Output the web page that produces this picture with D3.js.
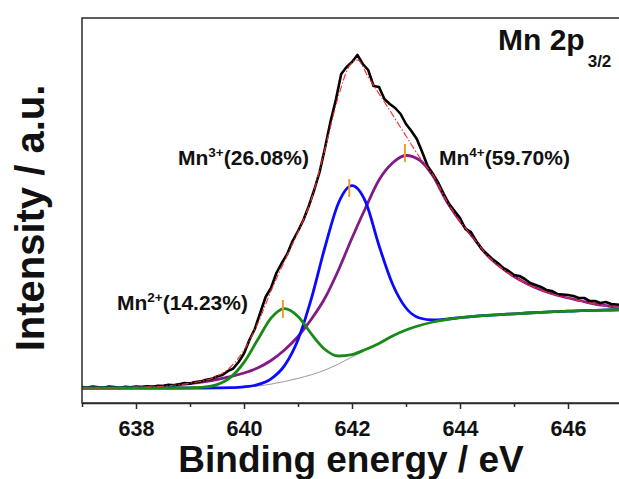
<!DOCTYPE html>
<html>
<head>
<meta charset="utf-8">
<script src="https://cdn.jsdelivr.net/npm/d3@7"></script>
<style>
  html, body { margin: 0; padding: 0; background: #fff; }
  svg { display: block; font-family: "Liberation Sans", Arial, sans-serif; }
</style>
</head>
<body>
<svg id="chart" width="619" height="479"></svg>
<script>
// ---- data (intensity in a.u.) ----
const rawStart = 637, rawStep = 0.1;
const rawIntensity = [
  17.0, 16.5, 17.5, 16.8, 16.2, 17.4, 16.9, 15.8, 17.2, 16.6,
  17.5, 16.9, 17.8, 17.1, 18.3, 18.0, 19.2, 18.6, 19.8, 20.9,
  20.4, 21.9, 22.6, 24.3, 25.1, 27.6, 29.0, 32.8, 35.5, 42.0,
  50.5, 64.0, 75.0, 91.0, 107.0, 116.0, 131.0, 141.0, 150.0, 163.0,
  173.0, 184.0, 198.0, 214.0, 232.0, 256.0, 282.0, 304.0, 330.0, 337.0,
  342.0, 349.0, 340.0, 334.0, 318.0, 317.0, 305.0, 300.0, 296.0, 290.0,
  280.0, 273.0, 265.0, 252.0, 238.0, 230.0, 221.0, 210.0, 200.0, 193.0,
  186.0, 175.0, 172.0, 163.0, 155.0, 150.0, 145.0, 141.0, 136.0, 133.0,
  129.0, 128.0, 125.0, 121.0, 119.0, 117.0, 114.0, 113.0, 110.0, 109.5,
  109.0, 108.0, 106.0, 106.0, 103.0, 103.0, 101.0, 102.0, 100.0, 99.5,
  99.0
];

// fitted curves sampled every 0.25 eV
const fitEnergy = [
  637, 637.25, 637.5, 637.75, 638, 638.25, 638.5, 638.75, 639, 639.25,
  639.5, 639.75, 640, 640.25, 640.5, 640.75, 641, 641.25, 641.5, 641.75,
  642, 642.25, 642.5, 642.75, 643, 643.25, 643.5, 643.75, 644, 644.25,
  644.5, 644.75, 645, 645.25, 645.5, 645.75, 646, 646.25, 646.5, 646.75, 647
];
const background = [
  16, 16, 16, 16, 16, 16, 16, 16, 16, 16.0,
  16.1, 16.3, 16.8, 17.9, 19.9, 22.5, 25.6, 29.3, 34.0, 40.0,
  47.0, 54.0, 60.5, 68.0, 74.0, 78.5, 82.0, 84.5, 86.3, 87.6,
  88.6, 89.4, 90.2, 91.0, 91.7, 92.3, 92.8, 93.3, 93.7, 94.0, 94.3
];
const mn2 = [
  16, 16, 16, 16, 16, 16, 16, 16, 16.2, 16.8,
  19.4, 26.6, 41.6, 63.9, 85.9, 95.4, 87.6, 69.9, 54.5, 48.0,
  49.4, 54.5, 60.6, 68.0, 74.0, 78.5, 82.0, 84.5, 86.3, 87.6,
  88.6, 89.4, 90.2, 91.0, 91.7, 92.3, 92.8, 93.3, 93.7, 94.0, 94.3
];
const mn3 = [
  16, 16, 16, 16, 16, 16, 16, 16, 16, 16.0,
  16.1, 16.3, 17.1, 19.3, 25.2, 38.4, 64.3, 105.8, 157.0, 201.0,
  218.3, 202.3, 158.5, 120.0, 96.0, 86.0, 84.0, 84.9, 86.3, 87.6,
  88.6, 89.4, 90.2, 91.0, 91.7, 92.3, 92.8, 93.3, 93.7, 94.0, 94.3
];
const mn4 = [
  16.0, 16.1, 16.2, 16.4, 16.7, 17.1, 17.8, 19.0, 20.5, 22.2,
  24.5, 27.3, 31.0, 36.0, 43.5, 54.0, 67.5, 85.0, 106.0, 134.0,
  166.0, 196.0, 224.0, 241.0, 248.5, 244.0, 228.0, 203.0, 183.0, 166.0,
  149.0, 137.0, 127.5, 120.0, 114.0, 109.5, 106.0, 103.0, 100.0, 98.0, 96.0
];
// envelope (sum of fit)
const envelopeEnergy = [
  637, 638, 638.5, 639, 639.5, 639.75, 640, 640.25, 640.5, 640.75,
  641, 641.25, 641.5, 641.75, 641.95, 642.1, 642.3, 642.6, 643, 643.3,
  643.5, 643.75, 644, 644.25, 644.5, 644.75, 645, 645.5, 646, 646.5, 647
];
const envelope = [
  16.0, 16.7, 17.8, 20.8, 27.8, 37.0, 54.0, 80.0, 113.0, 143.0,
  172.0, 205.0, 255.0, 308.0, 338.0, 344.0, 327.0, 302.0, 268.0, 243.0,
  229.0, 203.5, 183.0, 166.0, 149.0, 137.0, 127.5, 114.0, 106.0, 100.0, 96.0
];

const peakEnergy = [640.72, 641.95, 642.98];
const peakHeight = [95, 216, 251];
const peakIon = ["2+", "3+", "4+"];
const peakShare = ["(14.23%)", "(26.08%)", "(59.70%)"];

const majorTicks = [638, 640, 642, 644, 646];
const minorTicks = [637, 639, 641, 643, 645, 647];

// ---- layout ----
const svg = d3.select("#chart");
const mLeft = 82, mRight = 622, mTop = 18, mBottom = 403;

const x = d3.scaleLinear().domain([637, 647]).range([mLeft, mRight]);
const y = d3.scaleLinear().domain([1, 386]).range([mBottom, mTop]);

const fitLine = vals => d3.line()
  .x((d, i) => x(fitEnergy[i]))
  .y(d => y(d))
  .curve(d3.curveMonotoneX)(vals);

const plot = svg.append("g");

// background (Shirley)
plot.append("path").attr("d", fitLine(background))
  .attr("fill", "none").attr("stroke", "#9a9a9a").attr("stroke-width", 1);

// Mn4+
plot.append("path").attr("d", fitLine(mn4))
  .attr("fill", "none").attr("stroke", "#821a88").attr("stroke-width", 2.8);

// raw spectrum
const rawLine = d3.line()
  .x((d, i) => x(rawStart + i * rawStep))
  .y(d => y(d));
plot.append("path").attr("d", rawLine(rawIntensity))
  .attr("fill", "none").attr("stroke", "#000").attr("stroke-width", 2.6)
  .attr("stroke-linejoin", "round");

// Mn3+
plot.append("path").attr("d", fitLine(mn3))
  .attr("fill", "none").attr("stroke", "#0a0aff").attr("stroke-width", 2.8);

// Mn2+
plot.append("path").attr("d", fitLine(mn2))
  .attr("fill", "none").attr("stroke", "#178a17").attr("stroke-width", 2.8);

// envelope
const envLine = d3.line()
  .x((d, i) => x(envelopeEnergy[i]))
  .y(d => y(d))
  .curve(d3.curveMonotoneX);
plot.append("path").attr("d", envLine(envelope))
  .attr("fill", "none").attr("stroke", "#ff2a2a").attr("stroke-width", 1.1)
  .attr("stroke-dasharray", "7,2,1.5,2");

// peak markers
plot.selectAll("line.peak").data(peakEnergy).join("line")
  .attr("class", "peak")
  .attr("x1", d => x(d)).attr("x2", d => x(d))
  .attr("y1", (d, i) => y(peakHeight[i]) - 9)
  .attr("y2", (d, i) => y(peakHeight[i]) + 9)
  .attr("stroke", "#f39a2a").attr("stroke-width", 2);

// peak labels
const labelPos = [[117, 310], [178, 165], [439, 165]];
peakIon.forEach((ion, i) => {
  const t = svg.append("text")
    .attr("x", labelPos[i][0]).attr("y", labelPos[i][1])
    .attr("font-size", 21).attr("font-weight", "bold").attr("fill", "#111");
  t.append("tspan").text("Mn");
  t.append("tspan").text(ion).attr("font-size", 13.5).attr("dy", -8);
  t.append("tspan").text(peakShare[i]).attr("dy", 8);
});

// frame
svg.append("rect")
  .attr("x", mLeft).attr("y", mTop)
  .attr("width", mRight - mLeft).attr("height", mBottom - mTop)
  .attr("fill", "none").attr("stroke", "#2a2a2a").attr("stroke-width", 1.5);

// x axis
const gx = svg.append("g").attr("transform", `translate(0,${mBottom})`)
  .call(d3.axisBottom(x).tickValues(majorTicks).tickSize(6).tickPadding(12).tickSizeOuter(0));
gx.select(".domain").attr("stroke", "#2a2a2a").attr("stroke-width", 1.5);
gx.selectAll(".tick line").attr("stroke", "#2a2a2a").attr("stroke-width", 1.5);
gx.selectAll(".tick text")
  .attr("font-family", "Liberation Sans, Arial, sans-serif")
  .attr("font-size", 21.5).attr("font-weight", "bold").attr("fill", "#111");

const gm = svg.append("g").attr("transform", `translate(0,${mBottom})`)
  .call(d3.axisBottom(x).tickValues(minorTicks).tickSize(4).tickFormat("").tickSizeOuter(0));
gm.select(".domain").remove();
gm.selectAll(".tick line").attr("stroke", "#2a2a2a").attr("stroke-width", 1.5);

// axis titles
svg.append("text")
  .attr("x", 351).attr("y", 472).attr("text-anchor", "middle")
  .attr("font-size", 37).attr("font-weight", "bold").attr("fill", "#111")
  .text("Binding energy / eV");

svg.append("text")
  .attr("transform", "translate(44,218) rotate(-90)").attr("text-anchor", "middle")
  .attr("font-size", 40).attr("font-weight", "bold").attr("fill", "#111")
  .text("Intensity / a.u.");

// region title
const title = svg.append("text")
  .attr("x", 498).attr("y", 50)
  .attr("font-size", 30).attr("font-weight", "bold").attr("fill", "#111");
title.append("tspan").text("Mn 2p");
title.append("tspan").text("3/2").attr("font-size", 17).attr("dx", 3).attr("dy", 17);
</script>
</body>
</html>
